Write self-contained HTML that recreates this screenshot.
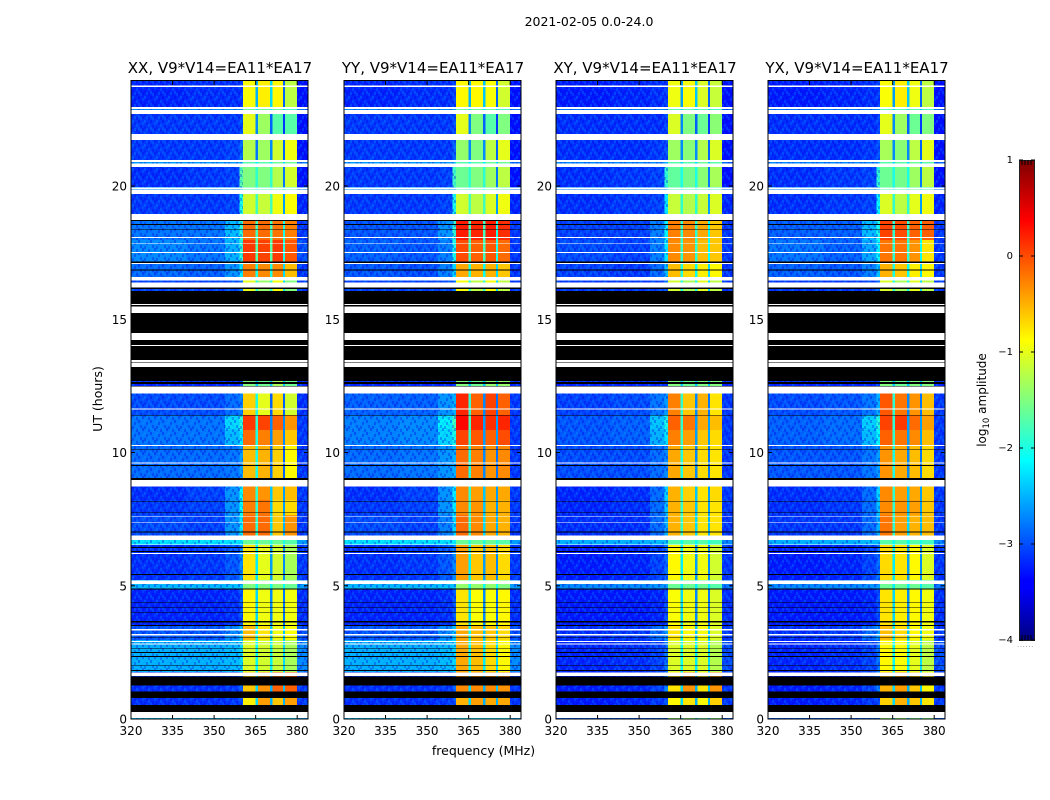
<!DOCTYPE html>
<html>
<head>
<meta charset="utf-8">
<title>2021-02-05 amplitude waterfall</title>
<style>
html,body{margin:0;padding:0;background:#fff;width:1050px;height:800px;overflow:hidden}
svg{display:block}
text{font-family:"DejaVu Sans","Liberation Sans",sans-serif;fill:#000}
</style>
</head>
<body>
<svg id="chart" width="1050" height="800" viewBox="0 0 1050 800" xmlns="http://www.w3.org/2000/svg">
<defs>
<pattern id="speckle" width="12" height="12" patternUnits="userSpaceOnUse">
<rect x="0" y="0" width="2" height="3" fill="#00a0ff" opacity=".3"/>
<rect x="6" y="0" width="2" height="3" fill="#0000e0" opacity=".35"/>
<rect x="10" y="2" width="2" height="3" fill="#00a0ff" opacity=".22"/>
<rect x="2" y="2" width="2" height="3" fill="#0000e0" opacity=".3"/>
<rect x="4" y="4" width="2" height="3" fill="#00a0ff" opacity=".25"/>
<rect x="8" y="5" width="2" height="3" fill="#0000e0" opacity=".3"/>
<rect x="0" y="6" width="2" height="3" fill="#0000e0" opacity=".3"/>
<rect x="6" y="7" width="2" height="3" fill="#00a0ff" opacity=".25"/>
<rect x="10" y="8" width="2" height="3" fill="#0000e0" opacity=".35"/>
<rect x="2" y="8" width="2" height="3" fill="#00a0ff" opacity=".25"/>
<rect x="8" y="9" width="2" height="3" fill="#00a0ff" opacity=".22"/>
<rect x="4" y="9" width="2" height="3" fill="#0000e0" opacity=".3"/>
</pattern>
<linearGradient id="jet-gradient" x1="0" y1="1" x2="0" y2="0">
<stop offset="0" stop-color="#000080"/>
<stop offset=".11" stop-color="#0000ff"/>
<stop offset=".125" stop-color="#0000ff"/>
<stop offset=".375" stop-color="#00ffff"/>
<stop offset=".625" stop-color="#ffff00"/>
<stop offset=".875" stop-color="#ff0000"/>
<stop offset="1" stop-color="#800000"/>
</linearGradient>
</defs>
<text x="589" y="26" text-anchor="middle" font-size="12.5">2021-02-05 0.0-24.0</text>
<text x="483.5" y="755" text-anchor="middle" font-size="12.5">frequency (MHz)</text>
<text x="0" y="0" transform="translate(102,399) rotate(-90)" text-anchor="middle" font-size="12.5">UT (hours)</text>
<g id="panels"></g>
<g>
<rect x="1019.5" y="160.5" width="15" height="480" fill="url(#jet-gradient)" stroke="#222" stroke-width="1"/>
<path d="M1022 160v5M1025 160v5M1028 160v5M1031 160v5M1022 640v-5M1025 640v-5M1028 640v-5M1031 640v-5" stroke="#000" stroke-width="1" fill="none"/>
<g id="cbticks"></g>
<text x="0" y="0" transform="translate(986,400) rotate(-90)" text-anchor="middle" font-size="12">log<tspan font-size="8.5" dy="3">10</tspan><tspan dy="-3"> amplitude</tspan></text>
<text x="1017" y="647" font-size="7" style="fill:#888;letter-spacing:.6px">......</text>
</g>
</svg>
<script>
// Chart data: frequency channel groups (MHz), time block edges (UT hours), log10 amplitude per block
var freqEdges = [320,340,354,359.2,360.4,365,365.8,370.2,371,374.9,375.6,380,384];
var hourEdges = [23.94,22.96,22.70,21.72,20.97,20.71,19.96,19.70,18.68,17.97,17.15,16.47,16.06,12.72,12.23,11.41,10.84,10.28,8.97,8.22,7.65,6.87,6.53,5.22,4.88,3.53,2.96,1.76,0.79,0.30,0];
var panelTitles = ["XX, V9*V14=EA11*EA17","YY, V9*V14=EA11*EA17","XY, V9*V14=EA11*EA17","YX, V9*V14=EA11*EA17"];
var xTickLabels = [320,335,350,365,380];
var yTickLabels = [0,5,10,15,20];
var colorbarTicks = [1,0,-1,-2,-3,-4];

var xxValues = [
[-3.2,-3.15,-3.15,-3.1,-0.9,-2.5,-0.8,-2.3,-0.85,-2.9,-1.2,-3.3],
[-2.7,-2.7,-2.7,-2.7,-1.6,-2.2,-1.6,-2.2,-1.6,-2.3,-1.8,-2.8],
[-3.1,-3.1,-3.1,-3.0,-1.0,-2.7,-1.35,-2.9,-1.7,-3.1,-1.7,-3.3],
[-3.1,-3.1,-3.05,-2.9,-1.25,-2.8,-1.35,-2.7,-1.1,-2.9,-0.95,-3.3],
[-2.6,-2.6,-2.6,-2.4,-1.7,-2.2,-1.7,-2.2,-1.6,-2.3,-1.6,-2.8],
[-3.15,-3.1,-3.05,-1.7,-1.5,-1.9,-1.5,-1.9,-1.25,-2.8,-1.1,-3.3],
[-2.6,-2.6,-2.6,-2.4,-1.7,-2.2,-1.7,-2.2,-1.6,-2.3,-1.6,-2.8],
[-3.1,-3.1,-3.05,-2.0,-1.1,-1.8,-1.15,-1.8,-0.95,-2.6,-0.9,-3.2],
[-2.8,-2.8,-2.45,-1.9,-0.15,-1.8,-0.15,-1.8,-0.2,-2.0,-0.25,-3.1],
[-2.7,-2.8,-2.5,-1.9,0.1,-1.7,0.05,-1.7,0.1,-2.0,-0.05,-3.0],
[-2.85,-2.9,-2.65,-2.2,-0.25,-2.0,-0.3,-2.0,-0.3,-2.3,-0.55,-3.1],
[-3.05,-3.05,-3.0,-2.8,-1.0,-1.9,-1.4,-1.9,-0.9,-2.3,-1.5,-3.1],
[-3.3,-3.3,-3.3,-3.3,-1.6,-2.4,-1.6,-2.4,-1.6,-2.4,-1.6,-3.3],
[-3.2,-3.2,-3.2,-3.1,-1.5,-2.4,-1.6,-2.4,-1.3,-2.4,-1.6,-3.2],
[-3.0,-3.0,-2.85,-2.75,-0.65,-2.0,-1.0,-2.9,-0.7,-2.9,-1.1,-3.15],
[-2.8,-2.8,-2.3,-1.9,0.1,-1.9,0.05,-2.7,-0.1,-2.7,-0.35,-3.1],
[-2.8,-2.8,-2.45,-2.2,-0.15,-2.0,-0.25,-2.7,-0.4,-2.7,-0.6,-3.1],
[-2.85,-2.85,-2.8,-2.6,-0.55,-2.0,-0.5,-2.8,-0.65,-2.9,-0.85,-3.1],
[-3.15,-3.05,-2.65,-2.1,-0.3,-1.9,-0.35,-2.4,-0.6,-2.6,-0.55,-3.1],
[-3.1,-3.05,-2.65,-2.1,-0.25,-1.9,-0.2,-2.4,-0.7,-2.6,-0.7,-3.1],
[-3.0,-3.05,-2.65,-2.2,-0.15,-1.9,-0.15,-2.3,-0.6,-2.5,-0.35,-3.1],
[-2.25,-2.25,-2.25,-2.2,-1.6,-2.0,-1.6,-2.0,-1.6,-2.0,-1.7,-2.6],
[-3.15,-3.1,-2.95,-2.7,-0.75,-2.2,-1.0,-2.6,-1.1,-2.7,-1.3,-3.1],
[-2.45,-2.45,-2.4,-2.4,-1.5,-2.1,-1.5,-2.1,-1.5,-2.1,-1.6,-2.6],
[-3.2,-3.2,-3.15,-2.95,-0.85,-2.3,-0.95,-2.7,-0.95,-2.8,-0.95,-3.15],
[-2.95,-2.95,-2.7,-2.4,-0.55,-2.1,-0.75,-2.4,-0.95,-2.4,-0.9,-3.0],
[-2.5,-2.5,-2.45,-2.3,-1.05,-2.1,-1.1,-2.2,-1.15,-2.3,-1.3,-2.7],
[-3.15,-3.15,-3.1,-2.9,-0.6,-2.3,-0.35,-2.5,-0.1,-2.4,-0.1,-3.1],
[-3.15,-3.15,-3.1,-3.0,-0.8,-2.3,-0.4,-2.5,-0.6,-2.5,-0.4,-3.1],
[-2.3,-2.3,-2.3,-2.3,-2.3,-2.3,-2.3,-2.3,-2.3,-2.3,-2.3,-2.5]
];
var yyValues = [
[-3.2,-3.15,-3.15,-3.05,-0.85,-2.5,-0.85,-2.4,-0.9,-2.9,-1.1,-3.3],
[-2.7,-2.7,-2.7,-2.6,-1.6,-2.2,-1.6,-2.2,-1.6,-2.3,-1.8,-2.8],
[-3.1,-3.1,-3.1,-3.0,-1.0,-2.7,-1.5,-2.9,-1.7,-3.1,-1.5,-3.3],
[-3.1,-3.1,-3.1,-2.9,-1.4,-2.7,-1.5,-2.7,-1.2,-2.9,-1.0,-3.3],
[-2.6,-2.6,-2.6,-2.4,-1.7,-2.2,-1.7,-2.2,-1.6,-2.3,-1.6,-2.8],
[-3.1,-3.1,-3.05,-1.8,-1.6,-1.9,-1.5,-1.9,-1.35,-2.8,-1.2,-3.3],
[-2.6,-2.6,-2.6,-2.4,-1.7,-2.2,-1.7,-2.2,-1.6,-2.3,-1.6,-2.8],
[-3.1,-3.1,-3.05,-2.0,-1.1,-1.8,-1.2,-1.8,-1.05,-2.6,-0.95,-3.2],
[-2.95,-2.95,-2.65,-1.9,0.25,-1.8,0.2,-1.8,0.25,-2.0,0.15,-3.1],
[-2.9,-2.95,-2.75,-2.0,0.0,-1.8,-0.1,-1.8,-0.05,-2.0,-0.15,-3.1],
[-2.95,-3.0,-2.75,-2.3,-0.45,-2.0,-0.5,-2.1,-0.5,-2.3,-0.6,-3.1],
[-3.05,-3.05,-3.0,-2.8,-0.9,-1.9,-1.2,-1.9,-0.9,-2.3,-1.2,-3.1],
[-3.3,-3.3,-3.3,-3.3,-1.6,-2.4,-1.6,-2.4,-1.6,-2.4,-1.6,-3.3],
[-3.2,-3.2,-3.2,-3.1,-1.5,-2.4,-1.6,-2.4,-1.4,-2.4,-1.4,-3.2],
[-2.9,-2.9,-2.65,-2.5,0.2,-1.9,-0.1,-2.7,0.05,-2.8,-0.1,-3.1],
[-2.75,-2.7,-2.2,-1.8,0.35,-1.8,0.2,-2.6,0.15,-2.6,0.2,-3.1],
[-2.75,-2.7,-2.3,-2.0,0.05,-1.9,-0.05,-2.6,-0.1,-2.6,0.0,-3.1],
[-2.85,-2.8,-2.65,-2.5,-0.15,-2.0,-0.25,-2.7,-0.35,-2.8,-0.3,-3.1],
[-3.15,-3.05,-2.65,-2.2,-0.3,-1.9,-0.4,-2.4,-0.45,-2.6,-0.45,-3.1],
[-3.1,-3.05,-2.65,-2.2,-0.3,-1.9,-0.35,-2.4,-0.5,-2.6,-0.5,-3.1],
[-3.0,-3.05,-2.75,-2.3,-0.15,-1.9,-0.3,-2.3,-0.45,-2.5,-0.5,-3.1],
[-2.25,-2.25,-2.25,-2.2,-1.6,-2.0,-1.6,-2.0,-1.6,-2.0,-1.7,-2.6],
[-3.15,-3.1,-2.95,-2.7,-0.4,-2.2,-0.6,-2.6,-0.55,-2.7,-0.7,-3.1],
[-2.45,-2.45,-2.4,-2.4,-1.4,-2.1,-1.4,-2.1,-1.4,-2.1,-1.5,-2.6],
[-3.2,-3.2,-3.15,-2.95,-0.75,-2.3,-0.9,-2.7,-0.9,-2.8,-0.85,-3.15],
[-2.95,-2.95,-2.7,-2.4,-0.45,-2.1,-0.55,-2.4,-0.6,-2.4,-0.7,-3.0],
[-2.5,-2.5,-2.45,-2.3,-0.45,-2.1,-0.55,-2.2,-0.7,-2.3,-0.85,-2.7],
[-3.15,-3.15,-3.1,-2.9,-0.3,-2.3,-0.3,-2.5,-0.3,-2.4,-0.35,-3.1],
[-3.15,-3.15,-3.1,-3.0,-0.5,-2.3,-0.4,-2.5,-0.45,-2.5,-0.45,-3.1],
[-2.3,-2.3,-2.3,-2.3,-2.2,-2.3,-2.2,-2.3,-2.2,-2.3,-2.2,-2.5]
];
var xyValues = [
[-3.25,-3.2,-3.15,-3.1,-0.95,-2.6,-0.9,-2.4,-1.05,-2.9,-1.15,-3.3],
[-2.8,-2.8,-2.75,-2.7,-1.7,-2.3,-1.7,-2.3,-1.7,-2.4,-1.8,-2.9],
[-3.15,-3.15,-3.15,-3.05,-1.05,-2.7,-1.5,-2.9,-1.6,-3.1,-1.45,-3.3],
[-3.15,-3.15,-3.1,-3.0,-1.35,-2.7,-1.45,-2.7,-1.25,-2.9,-1.05,-3.3],
[-2.7,-2.7,-2.7,-2.5,-1.7,-2.3,-1.7,-2.3,-1.6,-2.4,-1.7,-2.9],
[-3.15,-3.1,-3.05,-1.9,-1.65,-2.0,-1.55,-2.0,-1.45,-2.8,-1.3,-3.3],
[-2.7,-2.7,-2.7,-2.5,-1.7,-2.3,-1.7,-2.3,-1.6,-2.4,-1.7,-2.9],
[-3.15,-3.1,-3.05,-2.2,-1.15,-1.9,-1.25,-1.9,-1.15,-2.6,-1.05,-3.2],
[-3.05,-3.05,-2.75,-2.1,-0.25,-1.9,-0.3,-1.9,-0.45,-2.1,-0.6,-3.1],
[-3.0,-3.05,-2.75,-2.2,-0.3,-1.9,-0.35,-1.9,-0.55,-2.1,-0.6,-3.1],
[-3.05,-3.1,-2.85,-2.4,-0.55,-2.0,-0.7,-2.1,-0.8,-2.3,-0.85,-3.1],
[-3.1,-3.1,-3.05,-2.85,-1.1,-2.0,-1.3,-2.0,-1.0,-2.3,-1.2,-3.1],
[-3.3,-3.3,-3.3,-3.3,-1.7,-2.4,-1.7,-2.4,-1.7,-2.4,-1.7,-3.3],
[-3.2,-3.2,-3.2,-3.1,-1.5,-2.4,-1.6,-2.4,-1.5,-2.4,-1.5,-3.2],
[-3.05,-3.0,-2.8,-2.6,-0.25,-1.9,-0.6,-2.7,-0.5,-2.8,-0.75,-3.1],
[-2.95,-2.9,-2.4,-2.0,-0.1,-1.9,-0.2,-2.6,-0.45,-2.6,-0.55,-3.1],
[-2.95,-2.9,-2.5,-2.2,-0.25,-1.9,-0.4,-2.6,-0.6,-2.6,-0.7,-3.1],
[-3.0,-3.0,-2.85,-2.7,-0.45,-2.0,-0.6,-2.7,-0.7,-2.8,-0.75,-3.1],
[-3.2,-3.15,-2.85,-2.3,-0.5,-1.9,-0.65,-2.4,-0.75,-2.6,-0.7,-3.1],
[-3.2,-3.15,-2.85,-2.4,-0.5,-1.9,-0.6,-2.4,-0.75,-2.6,-0.75,-3.1],
[-3.15,-3.15,-2.85,-2.5,-0.5,-1.9,-0.6,-2.3,-0.75,-2.5,-0.75,-3.1],
[-2.5,-2.5,-2.45,-2.4,-1.7,-2.1,-1.7,-2.1,-1.7,-2.1,-1.8,-2.7],
[-3.25,-3.2,-3.05,-2.85,-0.85,-2.2,-0.95,-2.6,-0.95,-2.7,-1.1,-3.1],
[-2.7,-2.7,-2.65,-2.6,-1.6,-2.2,-1.6,-2.2,-1.6,-2.2,-1.7,-2.8],
[-3.25,-3.25,-3.2,-3.0,-0.9,-2.3,-0.95,-2.7,-0.95,-2.8,-1.05,-3.15],
[-3.15,-3.1,-2.85,-2.6,-0.75,-2.2,-0.85,-2.4,-0.9,-2.4,-1.05,-3.1],
[-3.2,-3.15,-3.05,-2.8,-1.05,-2.1,-1.05,-2.2,-1.05,-2.3,-1.25,-3.0],
[-3.25,-3.2,-3.05,-2.7,-0.75,-2.3,-0.35,-2.5,-0.75,-2.4,-0.35,-3.1],
[-3.25,-3.2,-3.1,-3.0,-0.85,-2.3,-0.75,-2.5,-0.85,-2.5,-0.65,-3.1],
[-2.9,-2.9,-2.9,-2.9,-1.4,-2.4,-1.4,-2.4,-1.6,-2.4,-1.5,-2.9]
];
var yxValues = [
[-3.25,-3.2,-3.15,-3.1,-0.9,-2.6,-0.8,-2.4,-0.95,-2.9,-1.2,-3.3],
[-2.8,-2.8,-2.75,-2.7,-1.7,-2.3,-1.7,-2.3,-1.7,-2.4,-1.8,-2.9],
[-3.15,-3.15,-3.15,-3.05,-1.0,-2.7,-1.35,-2.9,-1.6,-3.1,-1.5,-3.3],
[-3.15,-3.15,-3.1,-3.0,-1.3,-2.7,-1.45,-2.7,-1.2,-2.9,-1.0,-3.3],
[-2.7,-2.7,-2.7,-2.5,-1.7,-2.3,-1.7,-2.3,-1.6,-2.4,-1.7,-2.9],
[-3.15,-3.1,-3.05,-1.9,-1.6,-2.0,-1.55,-2.0,-1.35,-2.8,-1.2,-3.3],
[-2.7,-2.7,-2.7,-2.5,-1.7,-2.3,-1.7,-2.3,-1.6,-2.4,-1.7,-2.9],
[-3.15,-3.1,-3.05,-2.1,-1.05,-1.9,-1.2,-1.9,-1.0,-2.6,-0.95,-3.2],
[-2.9,-2.9,-2.45,-2.0,0.05,-1.9,0.0,-1.9,-0.1,-2.1,-0.1,-3.1],
[-2.8,-2.9,-2.55,-2.1,-0.2,-1.9,-0.2,-1.9,-0.35,-2.1,-0.75,-3.1],
[-2.9,-2.95,-2.75,-2.4,-0.5,-2.0,-0.6,-2.1,-0.8,-2.3,-0.85,-3.1],
[-3.1,-3.1,-3.05,-2.85,-1.05,-2.0,-1.3,-2.0,-1.0,-2.3,-1.2,-3.1],
[-3.3,-3.3,-3.3,-3.3,-1.7,-2.4,-1.7,-2.4,-1.7,-2.4,-1.7,-3.3],
[-3.2,-3.2,-3.2,-3.1,-1.5,-2.4,-1.6,-2.4,-1.5,-2.4,-1.5,-3.2],
[-3.0,-2.95,-2.8,-2.5,-0.05,-1.9,-0.2,-2.7,-0.35,-2.8,-0.55,-3.1],
[-2.9,-2.85,-2.35,-1.95,0.05,-1.9,0.1,-2.6,-0.15,-2.6,-0.4,-3.1],
[-2.9,-2.85,-2.45,-2.1,-0.1,-1.9,-0.2,-2.6,-0.3,-2.6,-0.55,-3.1],
[-2.95,-2.95,-2.8,-2.6,-0.35,-2.0,-0.45,-2.7,-0.55,-2.8,-0.7,-3.1],
[-3.15,-3.1,-2.85,-2.3,-0.3,-1.9,-0.4,-2.4,-0.45,-2.6,-0.6,-3.1],
[-3.15,-3.1,-2.85,-2.4,-0.3,-1.9,-0.35,-2.4,-0.4,-2.6,-0.6,-3.1],
[-3.1,-3.1,-2.85,-2.5,-0.2,-1.9,-0.4,-2.3,-0.5,-2.5,-0.55,-3.1],
[-2.5,-2.5,-2.45,-2.4,-1.7,-2.1,-1.7,-2.1,-1.7,-2.1,-1.8,-2.7],
[-3.25,-3.2,-3.05,-2.85,-0.7,-2.2,-0.75,-2.6,-0.85,-2.7,-1.05,-3.1],
[-2.7,-2.7,-2.65,-2.6,-1.6,-2.2,-1.6,-2.2,-1.6,-2.2,-1.7,-2.8],
[-3.25,-3.25,-3.2,-3.0,-0.75,-2.3,-0.8,-2.7,-0.85,-2.8,-0.95,-3.15],
[-3.15,-3.1,-2.85,-2.6,-0.55,-2.2,-0.7,-2.4,-0.85,-2.4,-0.95,-3.1],
[-3.2,-3.15,-3.05,-2.8,-0.85,-2.1,-0.9,-2.2,-1.0,-2.3,-1.2,-3.0],
[-3.25,-3.2,-3.05,-2.7,-0.5,-2.3,-0.4,-2.5,-0.6,-2.4,-0.85,-3.1],
[-3.25,-3.2,-3.1,-3.0,-0.65,-2.3,-0.5,-2.5,-0.6,-2.5,-0.75,-3.1],
[-2.9,-2.9,-2.9,-2.9,-1.4,-2.4,-1.4,-2.4,-1.6,-2.4,-1.5,-2.9]
];
var panelValues = [xxValues,yyValues,xyValues,yxValues];

var whiteBands = [[23.77,23.72],[22.97,22.88],[22.85,22.70],[21.95,21.72],[20.97,20.90],[20.85,20.71],[19.95,19.87],[19.85,19.70],[18.95,18.72],[18.08,18.05],[17.85,17.82],[17.52,17.49],[17.11,17.08],[16.58,16.46],[16.37,16.20],[15.57,15.53],[15.47,15.24],[14.49,14.22],[14.03,14.00],[13.47,13.38],[13.36,13.20],[12.47,12.22],[11.66,11.62],[10.28,10.24],[9.63,9.59],[8.97,8.72],[7.62,7.59],[7.39,7.37],[6.88,6.72],[6.55,6.53],[6.23,6.20],[5.19,5.07],[3.37,3.33],[3.19,3.13],[2.92,2.88],[2.83,2.80],[1.74,1.61],[0.27,0.03]];
var blackBands = [[18.72,18.68],[18.57,18.54],[18.37,18.34],[17.17,17.12],[16.87,16.82],[16.20,16.13],[16.06,15.57],[15.53,15.47],[15.24,14.49],[14.22,14.03],[14.00,13.47],[13.38,13.36],[13.20,12.69],[12.64,12.57],[12.49,12.47],[11.41,11.38],[10.12,10.09],[9.53,9.50],[9.04,8.97],[8.17,8.14],[7.77,7.74],[7.04,7.00],[6.45,6.42],[6.30,6.27],[5.44,5.41],[4.89,4.86],[4.38,4.35],[4.19,4.16],[4.00,3.97],[3.68,3.63],[3.53,3.49],[3.08,3.05],[2.65,2.62],[2.51,2.48],[2.36,2.33],[2.03,2.00],[1.84,1.80],[1.59,1.26],[1.04,0.79],[0.53,0.27]];

var NS = 'http://www.w3.org/2000/svg';
var panelLeft = [131,344,556,768];
var plotTop = 81, plotBottom = 719, plotWidth = 177;
function xScale(f, left){ return left + (f - 320) * 2.77; }
function yScale(h){ return plotBottom - h * 26.65; }
function cbScale(v){ return 160 + (1 - v) * 96; }
function clip(v){ return Math.max(0, Math.min(1, v)); }
function jet(v){
  var t = (v + 4) / 5;
  var r = clip(1.5 - Math.abs(4 * t - 3));
  var g = clip(1.5 - Math.abs(4 * t - 2));
  var b = clip(1.5 - Math.abs(4 * t - 1));
  return 'rgb(' + Math.round(r * 255) + ',' + Math.round(g * 255) + ',' + Math.round(b * 255) + ')';
}
function make(tag, parent, attrs, txt){
  var el = document.createElementNS(NS, tag);
  for (var k in attrs) el.setAttribute(k, attrs[k]);
  if (txt !== undefined) el.textContent = txt;
  parent.appendChild(el);
  return el;
}
var root = document.getElementById('panels');
panelValues.forEach(function(rows, p){
  var left = panelLeft[p];
  var right = left + plotWidth;
  var g = make('g', root, {});
  
  

  rows.forEach(function(row, r){
    row.forEach(function(val, c){
      var x0 = xScale(freqEdges[c], left);
      var x1 = xScale(freqEdges[c + 1], left);
      var y0 = yScale(hourEdges[r]);
      var y1 = yScale(hourEdges[r + 1]);
      var cell = make('rect', g, {x:x0, y:y0, width:Math.max(x1 - x0, 0.5), height:y1 - y0, fill:jet(val), 'shape-rendering':'crispEdges'});
      
      
    });
  });

  var tex = make('rect', g, {x:left, y:plotTop, width:xScale(360.4, left) - left, height:plotBottom - plotTop, fill:'url(#speckle)'});
  
  
  var tex2 = make('rect', g, {x:xScale(380, left), y:plotTop, width:right - xScale(380, left), height:plotBottom - plotTop, fill:'url(#speckle)'});
  
  

  whiteBands.forEach(function(b){
    var w = make('rect', g, {x:left, y:yScale(b[0]), width:plotWidth, height:yScale(b[1]) - yScale(b[0]), fill:'#fff', 'shape-rendering':'crispEdges'});
    
    
  });
  blackBands.forEach(function(b){
    var k = make('rect', g, {x:left, y:yScale(b[0]), width:plotWidth, height:yScale(b[1]) - yScale(b[0]), fill:'#000', 'shape-rendering':'crispEdges'});
    
    
  });

  var frame = make('rect', g, {x:left, y:plotTop - 0.5, width:plotWidth, height:plotBottom - plotTop + 0.5, fill:'none', stroke:'#000', 'stroke-width':1});
  
  

  var title = make('text', g, {x:left + plotWidth / 2 + 0.5, y:73, 'text-anchor':'middle', 'font-size':15}, panelTitles[p]);
  
  

  xTickLabels.forEach(function(f){
    var x = xScale(f, left);
    var t1 = make('line', g, {x1:x, x2:x, y1:plotBottom, y2:plotBottom - 4, stroke:'#000', 'stroke-width':1});
    
    
    var t2 = make('line', g, {x1:x, x2:x, y1:plotTop, y2:plotTop + 4, stroke:'#000', 'stroke-width':1});
    
    
    var lab = make('text', g, {x:x, y:735, 'text-anchor':'middle', 'font-size':12}, f);
    
    
  });
  yTickLabels.forEach(function(h){
    var y = yScale(h);
    var t1 = make('line', g, {x1:left, x2:left + 4, y1:y, y2:y, stroke:'#000', 'stroke-width':1});
    
    
    var t2 = make('line', g, {x1:right, x2:right - 4, y1:y, y2:y, stroke:'#000', 'stroke-width':1});
    
    
    var lab = make('text', g, {x:left - 4, y:y + 4.5, 'text-anchor':'end', 'font-size':12}, h);
    
    
  });
});

var cb = document.getElementById('cbticks');
colorbarTicks.forEach(function(v){
  var y = cbScale(v);
  var t1 = make('line', cb, {x1:1019, x2:1023, y1:y, y2:y, stroke:'#000', 'stroke-width':1});
  
  
  var t2 = make('line', cb, {x1:1031, x2:1035, y1:y, y2:y, stroke:'#000', 'stroke-width':1});
  
  
  var lab = make('text', cb, {x:1013, y:y + 3, 'text-anchor':'end', 'font-size':10}, v < 0 ? '\u2212' + Math.abs(v) : String(v));
  
  
});
</script>
</body>
</html>
